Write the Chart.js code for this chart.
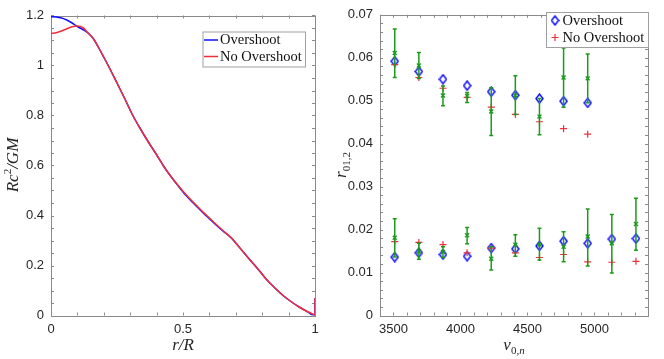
<!DOCTYPE html>
<html>
<head>
<meta charset="utf-8">
<script src="https://cdn.jsdelivr.net/npm/chart.js@4.4.0/dist/chart.umd.min.js"></script>
<style>
  html, body { margin: 0; padding: 0; background: #fff; }
  #wrap { position: relative; width: 664px; height: 359px; }
  canvas { position: absolute; top: 0; }
  #left { left: 0; }
  #right { left: 330px; }
</style>
</head>
<body>
<div id="wrap">
  <canvas id="left" width="330" height="359"></canvas>
  <canvas id="right" width="334" height="359"></canvas>
</div>
<script>
// Left panel: Rc^2/GM against r/R
const radius = [0, 0.02, 0.04, 0.06, 0.08, 0.10, 0.12, 0.14, 0.16, 0.18, 0.20, 0.22, 0.25, 0.28, 0.31, 0.34, 0.37, 0.40,
  0.425, 0.45, 0.48, 0.51, 0.54, 0.57, 0.59, 0.62, 0.65, 0.684, 0.70, 0.73, 0.76, 0.79, 0.82, 0.85, 0.88, 0.91, 0.94, 0.97,
  0.998, 1.0, 1.0];
const overshootProfile = [1.195, 1.194, 1.190, 1.182, 1.170, 1.156, 1.144, 1.130, 1.108, 1.072, 1.033, 0.993, 0.930, 0.866,
  0.800, 0.744, 0.692, 0.643, 0.600, 0.562, 0.521, 0.482, 0.449, 0.417, 0.397, 0.367, 0.339, 0.309, 0.290, 0.252, 0.215,
  0.178, 0.140, 0.108, 0.079, 0.055, 0.034, 0.016, 0.0, 0.0, 0.07];
const noOvershootProfile = [1.128, 1.131, 1.138, 1.147, 1.155, 1.158, 1.152, 1.131, 1.108, 1.072, 1.033, 0.993, 0.930, 0.866,
  0.800, 0.744, 0.692, 0.643, 0.600, 0.562, 0.522, 0.485, 0.452, 0.420, 0.400, 0.370, 0.341, 0.310, 0.290, 0.252, 0.215,
  0.178, 0.140, 0.108, 0.079, 0.055, 0.034, 0.016, 0.002, 0.0, 0.07];
const radiusTicks = [0, 0.5, 1];
const profileTicks = [0, 0.2, 0.4, 0.6, 0.8, 1, 1.2];

// Right panel: ratios against frequency
const freqR01 = [3510, 3690, 3870, 4050, 4230, 4410, 4590, 4770, 4950];
const overR01 = [0.0592, 0.0568, 0.0550, 0.0535, 0.0521, 0.0513, 0.0505, 0.0499, 0.0495];
const noOverR01 = [0.0584, 0.0554, 0.0529, 0.0508, 0.0485, 0.0468, 0.0451, 0.0435, 0.0422];
const obsR01 = [0.0611, 0.0582, 0.0512, 0.0511, 0.0475, 0.0512, 0.0463, 0.0554, 0.0552];
const obsR01Low = [0.0554, 0.0552, 0.0488, 0.0496, 0.0419, 0.0468, 0.0421, 0.0485, 0.0495];
const obsR01High = [0.0667, 0.0612, 0.0534, 0.0519, 0.0530, 0.0558, 0.0505, 0.0623, 0.0609];

const freqR02 = [3510, 3690, 3870, 4050, 4230, 4410, 4590, 4770, 4950, 5130, 5310];
const overR02 = [0.0136, 0.0146, 0.0142, 0.0138, 0.0157, 0.0155, 0.0162, 0.0173, 0.0168, 0.0178, 0.0179];
const noOverR02 = [0.0172, 0.0170, 0.0165, 0.0146, 0.0157, 0.0146, 0.0135, 0.0142, 0.0125, 0.0124, 0.0126];
const obsR02 = [0.0181, 0.0149, 0.0148, 0.0187, 0.0132, 0.0165, 0.0165, 0.0160, 0.0184, 0.0168, 0.0213];
const obsR02Low = [0.0136, 0.0131, 0.0135, 0.0167, 0.0106, 0.0138, 0.0129, 0.0125, 0.0115, 0.0099, 0.0152];
const obsR02High = [0.0225, 0.0168, 0.0160, 0.0205, 0.0160, 0.0188, 0.0203, 0.0195, 0.0248, 0.0235, 0.0273];

const freqTicks = [3500, 4000, 4500, 5000];
const ratioTicks = [0, 0.01, 0.02, 0.03, 0.04, 0.05, 0.06, 0.07];

const BLUE = '#1010ff';
const RED = '#ee2f3a';
const GREEN = '#1c9a1c';
const AXIS = '#8a8a8a';

Chart.defaults.font.family = '"Liberation Sans", Arial, sans-serif';
Chart.defaults.font.size = 13;
Chart.defaults.color = '#262626';
Chart.defaults.animation = false;

const pts = (xs, ys) => xs.map((x, i) => ({ x: x, y: ys[i] }));

// tall hollow diamond marker, like matlab's 'd'
function diamondMarker() {
  const c = document.createElement('canvas');
  c.width = 9; c.height = 11;
  const g = c.getContext('2d');
  g.strokeStyle = BLUE;
  g.lineWidth = 1.5;
  g.beginPath();
  g.moveTo(4.5, 1); g.lineTo(8, 5.5); g.lineTo(4.5, 10); g.lineTo(1, 5.5); g.closePath();
  g.stroke();
  return c;
}
const diamond = diamondMarker();

// box round the plot area with small inward ticks
const boxTicks = {
  id: 'boxTicks',
  beforeDatasetsDraw(chart, args, opts) {
    const { ctx, chartArea: a, scales } = chart;
    const len = 3;
    ctx.save();
    ctx.strokeStyle = AXIS;
    ctx.lineWidth = 1;
    ctx.strokeRect(Math.round(a.left) + 0.5, Math.round(a.top) + 0.5,
      Math.round(a.right - a.left), Math.round(a.bottom - a.top));
    ctx.beginPath();
    const xs = scales.x, ys = scales.y;
    const nx = Math.round((xs.max - xs.min) / opts.xStep);
    for (let i = 0; i <= nx; i++) {
      const px = Math.round(xs.getPixelForValue(xs.min + i * opts.xStep)) + 0.5;
      ctx.moveTo(px, a.bottom); ctx.lineTo(px, a.bottom - len);
      ctx.moveTo(px, a.top); ctx.lineTo(px, a.top + len);
    }
    const ny = Math.round((ys.max - ys.min) / opts.yStep);
    for (let i = 0; i <= ny; i++) {
      const py = Math.round(ys.getPixelForValue(ys.min + i * opts.yStep)) + 0.5;
      ctx.moveTo(a.left, py); ctx.lineTo(a.left + len, py);
      ctx.moveTo(a.right, py); ctx.lineTo(a.right - len, py);
    }
    ctx.stroke();
    ctx.restore();
  }
};

// axis titles with sub/superscripts
function drawSegments(ctx, segs, cx, cy, rotate) {
  const fontOf = s => (s.it ? 'italic ' : '') + ((s.sub || s.sup) ? 11 : 17) + 'px "Liberation Serif", serif';
  ctx.save();
  ctx.translate(cx, cy);
  if (rotate) ctx.rotate(-Math.PI / 2);
  let total = 0;
  segs.forEach(s => { ctx.font = fontOf(s); total += ctx.measureText(s.t).width; });
  let x = -total / 2;
  ctx.fillStyle = '#262626';
  ctx.textBaseline = 'alphabetic';
  segs.forEach(s => {
    ctx.font = fontOf(s);
    const dy = s.sub ? 4 : s.sup ? -7 : 0;
    ctx.fillText(s.t, x, 5 + dy);
    x += ctx.measureText(s.t).width;
  });
  ctx.restore();
}

const axisTitles = {
  id: 'axisTitles',
  afterDraw(chart, args, opts) {
    drawSegments(chart.ctx, opts.x.segs, opts.x.cx, opts.x.cy, false);
    drawSegments(chart.ctx, opts.y.segs, opts.y.cx, opts.y.cy, true);
  }
};

// legend drawn inside the axes
const boxLegend = {
  id: 'boxLegend',
  afterDraw(chart, args, opts) {
    const ctx = chart.ctx;
    ctx.save();
    ctx.fillStyle = '#fff';
    ctx.fillRect(opts.left, opts.top, opts.width, opts.height);
    ctx.strokeStyle = '#a0a0a0';
    ctx.lineWidth = 1;
    ctx.strokeRect(opts.left + 0.5, opts.top + 0.5, opts.width, opts.height);
    opts.items.forEach((it, i) => {
      const ds = chart.data.datasets[it.index];
      const y = opts.rowY[i];
      if (opts.kind === 'line') {
        ctx.strokeStyle = ds.borderColor;
        ctx.lineWidth = 1.5;
        ctx.beginPath();
        ctx.moveTo(opts.sampleX, y);
        ctx.lineTo(opts.sampleX + 14, y);
        ctx.stroke();
      } else {
        ctx.strokeStyle = ds.pointBorderColor;
        ctx.lineWidth = ds.pointBorderWidth;
        Chart.helpers.drawPoint(ctx, { pointStyle: ds.pointStyle, radius: ds.pointRadius, borderWidth: ds.pointBorderWidth, rotation: 0 }, opts.sampleX, y);
      }
      ctx.fillStyle = '#111';
      ctx.font = '14.5px "Liberation Serif", serif';
      ctx.textBaseline = 'middle';
      ctx.fillText(ds.label, opts.textX, y + 0.5);
    });
    ctx.restore();
  }
};

// vertical error bars with caps for the observed ratios
const errorBars = {
  id: 'errorBars',
  afterDatasetsDraw(chart, args, opts) {
    const ds = chart.data.datasets[opts.index];
    const xs = chart.scales.x, ys = chart.scales.y;
    const ctx = chart.ctx;
    ctx.save();
    ctx.strokeStyle = ds.pointBorderColor;
    ctx.lineWidth = 1.5;
    ds.data.forEach(p => {
      const px = xs.getPixelForValue(p.x);
      const lo = ys.getPixelForValue(p.lo);
      const hi = ys.getPixelForValue(p.hi);
      ctx.beginPath();
      ctx.moveTo(px, lo); ctx.lineTo(px, hi);
      ctx.moveTo(px - 2, lo); ctx.lineTo(px + 2, lo);
      ctx.moveTo(px - 2, hi); ctx.lineTo(px + 2, hi);
      ctx.stroke();
    });
    ctx.restore();
  }
};

function fixedTicks(list) {
  return s => { s.ticks = list.map(v => ({ value: v })); };
}

// ---- left chart
new Chart(document.getElementById('left'), {
  type: 'scatter',
  data: {
    datasets: [
      {
        label: 'Overshoot',
        data: pts(radius, overshootProfile),
        showLine: true,
        borderColor: BLUE,
        borderWidth: 1.5,
        pointRadius: 0,
        cubicInterpolationMode: 'monotone',
        order: 2
      },
      {
        label: 'No Overshoot',
        data: pts(radius, noOvershootProfile),
        showLine: true,
        borderColor: RED,
        borderWidth: 1.5,
        pointRadius: 0,
        cubicInterpolationMode: 'monotone',
        order: 1
      }
    ]
  },
  options: {
    responsive: false,
    devicePixelRatio: 1,
    layout: { padding: { top: 15.5, right: 15, left: 0, bottom: 0 } },
    scales: {
      x: {
        type: 'linear', min: 0, max: 1,
        grid: { display: false, drawTicks: false },
        border: { display: false },
        afterBuildTicks: fixedTicks(radiusTicks),
        afterFit: s => { s.height = 43.5; },
        ticks: { padding: 6, maxRotation: 0, callback: v => String(v) }
      },
      y: {
        type: 'linear', min: 0, max: 1.2,
        grid: { display: false, drawTicks: false },
        border: { display: false },
        afterBuildTicks: fixedTicks(profileTicks),
        afterFit: s => { s.width = 51; },
        ticks: { padding: 7, callback: v => String(v) }
      }
    },
    plugins: {
      legend: { display: false },
      tooltip: { enabled: false },
      boxTicks: { xStep: 0.1, yStep: 0.05 },
      axisTitles: {
        x: { cx: 183, cy: 345, segs: [{ t: 'r/R', it: true }] },
        y: { cx: 13, cy: 165, segs: [{ t: 'Rc', it: true }, { t: '2', sup: true }, { t: '/GM', it: true }] }
      },
      boxLegend: {
        kind: 'line', left: 202.5, top: 31.5, width: 102.5, height: 35,
        sampleX: 204, textX: 220, rowY: [40, 56.5],
        items: [{ index: 0 }, { index: 1 }]
      }
    }
  },
  plugins: [boxTicks, axisTitles, boxLegend]
});

// ---- right chart
const obsPoints = freqR01.map((f, i) => ({ x: f, y: obsR01[i], lo: obsR01Low[i], hi: obsR01High[i] }))
  .concat(freqR02.map((f, i) => ({ x: f, y: obsR02[i], lo: obsR02Low[i], hi: obsR02High[i] })));

new Chart(document.getElementById('right'), {
  type: 'scatter',
  data: {
    datasets: [
      {
        label: 'Overshoot',
        data: pts(freqR01, overR01).concat(pts(freqR02, overR02)),
        pointStyle: diamond,
        pointRadius: 4,
        pointBorderWidth: 1.5,
        pointBorderColor: BLUE,
        pointBackgroundColor: 'rgba(0,0,0,0)',
        order: 3
      },
      {
        label: 'No Overshoot',
        data: pts(freqR01, noOverR01).concat(pts(freqR02, noOverR02)),
        pointStyle: 'cross',
        pointRadius: 3.5,
        pointBorderWidth: 1.2,
        pointBorderColor: RED,
        pointBackgroundColor: RED,
        order: 2
      },
      {
        label: 'Observed',
        data: obsPoints,
        pointStyle: 'crossRot',
        pointRadius: 2.8,
        pointBorderWidth: 1.4,
        pointBorderColor: GREEN,
        pointBackgroundColor: GREEN,
        order: 1
      }
    ]
  },
  options: {
    responsive: false,
    devicePixelRatio: 1,
    layout: { padding: { top: 14, right: 16, left: 0, bottom: 0 } },
    scales: {
      x: {
        type: 'linear', min: 3400, max: 5400,
        grid: { display: false, drawTicks: false },
        border: { display: false },
        afterBuildTicks: fixedTicks(freqTicks),
        afterFit: s => { s.height = 43.5; },
        ticks: { padding: 6, maxRotation: 0, callback: v => String(v) }
      },
      y: {
        type: 'linear', min: 0, max: 0.07,
        grid: { display: false, drawTicks: false },
        border: { display: false },
        afterBuildTicks: fixedTicks(ratioTicks),
        afterFit: s => { s.width = 50; },
        ticks: { padding: 7, callback: v => String(v) }
      }
    },
    plugins: {
      legend: { display: false },
      tooltip: { enabled: false },
      boxTicks: { xStep: 100, yStep: 0.002 },
      errorBars: { index: 2 },
      axisTitles: {
        x: { cx: 184, cy: 345, segs: [{ t: 'ν', it: true }, { t: '0,', sub: true }, { t: 'n', sub: true, it: true }] },
        y: { cx: 11, cy: 165, segs: [{ t: 'r', it: true }, { t: '01,2', sub: true }] }
      },
      boxLegend: {
        kind: 'point', left: 216, top: 12, width: 102, height: 35,
        sampleX: 225, textX: 232.5, rowY: [20.5, 37.5],
        items: [{ index: 0 }, { index: 1 }]
      }
    }
  },
  plugins: [boxTicks, errorBars, axisTitles, boxLegend]
});
</script>
</body>
</html>
